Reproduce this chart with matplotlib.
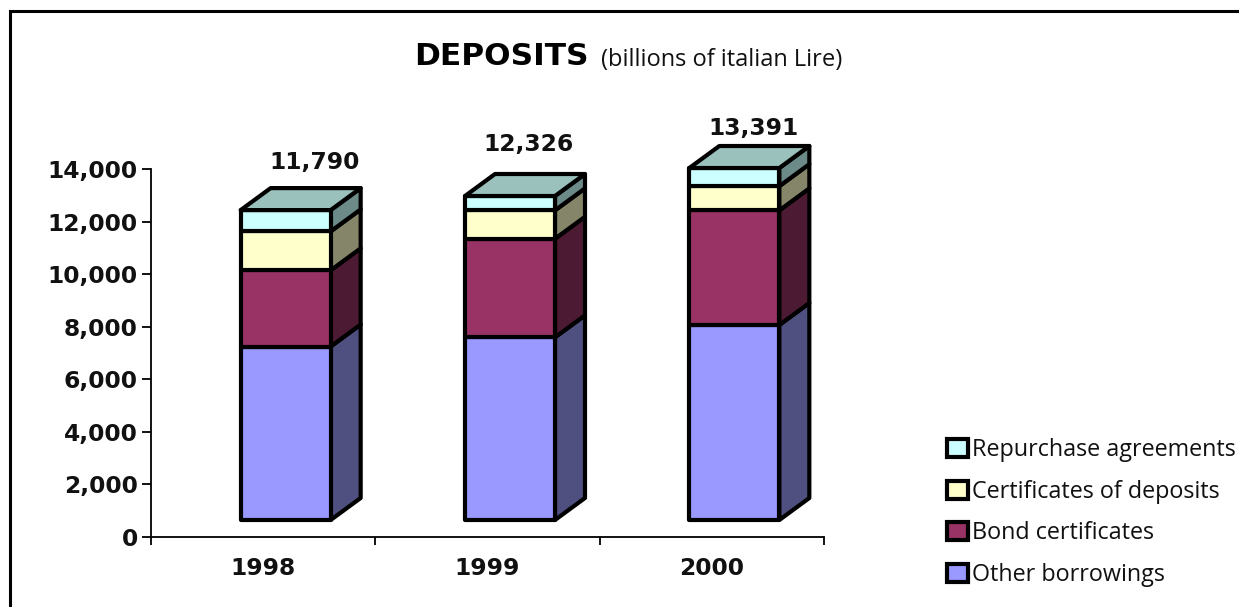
import matplotlib
matplotlib.use('Agg')
import matplotlib.pyplot as plt
from matplotlib.lines import Line2D
from matplotlib.patches import Patch, Polygon

plt.rcParams['font.family'] = ['Open Sans', 'DejaVu Sans']

years = ['1998', '1999', '2000']
series_names = ['Other borrowings', 'Bond certificates', 'Certificates of deposits', 'Repurchase agreements']
other_borrowings = [6600, 6950, 7420]
bond_certificates = [2900, 3750, 4360]
certificates_of_deposits = [1480, 1080, 920]
repurchase_agreements = [810, 546, 691]
yticks = [0, 2000, 4000, 6000, 8000, 10000, 12000, 14000]

front_colors = ['#9999FF', '#993366', '#FFFFCC', '#CCFFFF']
side_colors = ['#4F4F80', '#4D1A33', '#858569', '#6B8A88']
top_color = '#9BC1BD'

W, H = 1239, 607
AX_LEFT, AX_RIGHT, AX_TOP, AX_BOTTOM = 151, 824, 169, 537
EDGE = 3.0
BOLD = {'family': 'DejaVu Sans', 'fontweight': 'bold', 'fontsize': 16.8, 'color': '#111111'}

fig = plt.figure(figsize=(W / 100, H / 100), dpi=100, facecolor='white')
ax = fig.add_axes([AX_LEFT / W, 1 - AX_BOTTOM / H, (AX_RIGHT - AX_LEFT) / W, (AX_BOTTOM - AX_TOP) / H])
ax.set_xlim(0, 3)
ax.set_ylim(0, 14000)

# 3D look: bars sit on a raised floor and extrude up and to the right
px_x = 3 / (AX_RIGHT - AX_LEFT)
px_y = 14000 / (AX_BOTTOM - AX_TOP)
bar_w = 90 * px_x
depth_x = 30 * px_x
depth_y = 22 * px_y
floor = 17 * px_y
shift = 22.5 * px_x

stacks = [other_borrowings, bond_certificates, certificates_of_deposits, repurchase_agreements]


def face(points, color, z):
    ax.add_patch(Polygon(points, closed=True, facecolor=color, edgecolor='black',
                         linewidth=EDGE, joinstyle='round', zorder=z, clip_on=False))


for i, year in enumerate(years):
    left = i + 0.5 + shift - bar_w / 2
    right = left + bar_w
    bottom = floor
    for s, values in enumerate(stacks):
        top = bottom + values[i]
        face([(right, bottom), (right + depth_x, bottom + depth_y),
              (right + depth_x, top + depth_y), (right, top)], side_colors[s], 3)
        face([(left, bottom), (right, bottom), (right, top), (left, top)], front_colors[s], 4)
        bottom = top
    face([(left, bottom), (right, bottom), (right + depth_x, bottom + depth_y),
          (left + depth_x, bottom + depth_y)], top_color, 4)

# totals sit above each bar, nudged by hand as they were placed on the slide
label_dx = [29, 18, 19]
label_dy = [26, 30, 18]
for i in range(len(years)):
    total = sum(values[i] for values in stacks)
    ax.annotate(f'{total:,}', xy=(i + 0.5 + shift, floor + total + depth_y),
                xytext=(label_dx[i] * 0.72, label_dy[i] * 0.72), textcoords='offset points',
                ha='center', va='center', zorder=6, annotation_clip=False, **BOLD)

for side in ('top', 'right'):
    ax.spines[side].set_visible(False)
for side in ('left', 'bottom'):
    ax.spines[side].set_linewidth(1.3)

ax.set_yticks(yticks)
ax.set_yticklabels([f'{v:,}' for v in yticks], **BOLD)
ax.set_xticks([0, 1, 2, 3])
ax.set_xticklabels([])
ax.tick_params(axis='y', length=6.5, width=1.3, pad=3)
ax.tick_params(axis='x', length=5.5, width=1.3)
for i, year in enumerate(years):
    ax.annotate(year, xy=(i + 0.5, 0), xytext=(0, -23), textcoords='offset points',
                ha='center', va='center', annotation_clip=False, **BOLD)

# title in two runs, bold heading then the unit note
fig.text(414 / W, 1 - 65 / H, 'DEPOSITS', fontsize=22.5, family='DejaVu Sans', fontweight='bold',
         color='black', va='baseline')
fig.text(601 / W, 1 - 66 / H, '(billions of italian Lire)', fontsize=17, color='#111111', va='baseline')

handles = [Patch(facecolor=c, edgecolor='black', linewidth=EDGE) for c in front_colors[::-1]]
fig.legend(handles, series_names[::-1], loc='upper left', bbox_to_anchor=(940 / W, 1 - 431 / H),
           frameon=False, fontsize=16.8, handlelength=0.88, handleheight=0.82, handletextpad=0.2,
           labelspacing=0.76, labelcolor='#111111', borderpad=0.3, borderaxespad=0)

# slide frame: only the top and left edges fall inside the image
fig.add_artist(Line2D([10 / W, 10 / W, 1], [0, 1 - 11 / H, 1 - 11 / H], color='black', linewidth=2.2,
                      solid_joinstyle='miter'))

fig.savefig('out.png', dpi=100)
